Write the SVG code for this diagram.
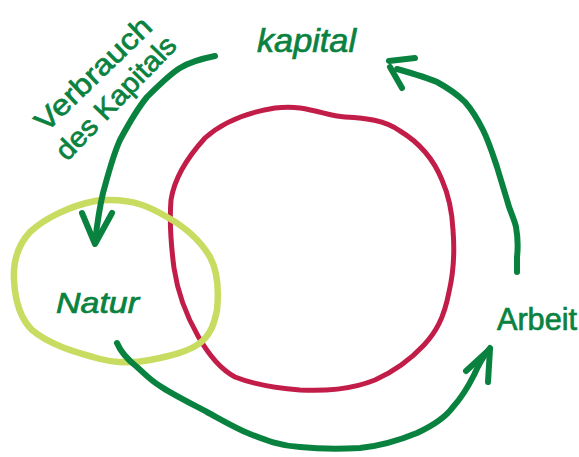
<svg xmlns="http://www.w3.org/2000/svg" width="579" height="457" viewBox="0 0 579 457">
<style>
.lbl{font-family:"Liberation Sans",Arial,sans-serif;fill:#0a823f;stroke:#0a823f;stroke-width:0.7}
.it{font-style:italic}
.g{fill:none;stroke:#0a823f;stroke-width:6;stroke-linecap:round;stroke-linejoin:round}
.red{fill:none;stroke:#c21d48;stroke-width:5;stroke-linecap:round;stroke-linejoin:round}
.yel{fill:none;stroke:#c8dc62;stroke-width:6.5;stroke-linecap:round;stroke-linejoin:round}
</style>
<rect width="579" height="457" fill="#fff"/>
<g id="kapitalkreis">
<path class="red" d="M300,108 C320,111 330,116 345,117 C365,118 385,120 400,131 C420,143 433,158 442,180 C449,196 452,210 453,230 C455,255 453,275 449,292 C444,318 436,332 424,345 C410,360 395,371 375,380 C350,390 325,391 300,390 C275,388 250,383 235,377 C218,368 207,352 198,336 C186,315 178,295 174,268 C171,245 169,225 171,200 C174,180 185,160 205,138 C225,120 250,112 275,108 C285,107 292,107 300,108 Z"/>
</g>
<g id="natur">
<path class="yel" d="M110,200 C135,200 150,207 167,217 C185,227 200,240 210,257 C217,270 219,290 217,310 C214,325 210,335 200,343 C188,352 170,356 150,360 C135,363 115,364 93,357 C75,352 50,345 32,330 C20,318 15,300 14,280 C13,262 18,245 30,232 C45,218 70,206 95,201 C100,200 105,200 110,200 Z"/>
<text class="lbl it" x="56" y="313" font-size="29" textLength="83" lengthAdjust="spacingAndGlyphs">Natur</text>
</g>
<g id="kapital">
<text class="lbl it" x="257" y="52" font-size="34" textLength="99" lengthAdjust="spacingAndGlyphs">kapital</text>
</g>
<g id="arbeit">
<text class="lbl" x="497" y="330" font-size="31" textLength="80" lengthAdjust="spacingAndGlyphs">Arbeit</text>
</g>
<g id="verbrauch">
<text class="lbl" font-size="29" transform="translate(46,133) rotate(-44)" textLength="150" lengthAdjust="spacingAndGlyphs">Verbrauch</text>
<text class="lbl" font-size="28" transform="translate(67,162) rotate(-46)" textLength="160" lengthAdjust="spacingAndGlyphs">des Kapitals</text>
</g>
<g id="connectors">
<path class="g" d="M215,56 C200,59 188,63 180,68 C170,74 158,86 147,97 C138,108 128,125 120,140 C113,155 108,175 103,193 C99,210 97,225 95,242"/>
<path class="g" d="M82,213 L95,244 L112,213"/>
<path class="g" d="M517,272 L517,257 C518,248 518,238 516,227 C514,218 510,212 507,200 C504,190 500,177 497,167 C493,155 489,142 483,130 C478,120 472,110 465,102 C458,95 448,88 437,82 C428,78 418,75 397,69"/>
<path class="g" d="M389,61 L415,58"/>
<path class="g" d="M390,67 L402,88"/>
<path class="g" d="M117,343 C120,350 128,360 137,367 C145,374 150,380 160,386 C170,393 190,403 207,412 C220,419 235,428 250,434 C265,440 280,446 300,447 C320,449 340,449 360,448 C380,446 400,440 417,433 C430,427 445,418 453,407 C462,397 468,387 474,375 C478,366 482,358 490,348"/>
<path class="g" d="M466,371 L490,349 L488,382"/>
</g>
</svg>
